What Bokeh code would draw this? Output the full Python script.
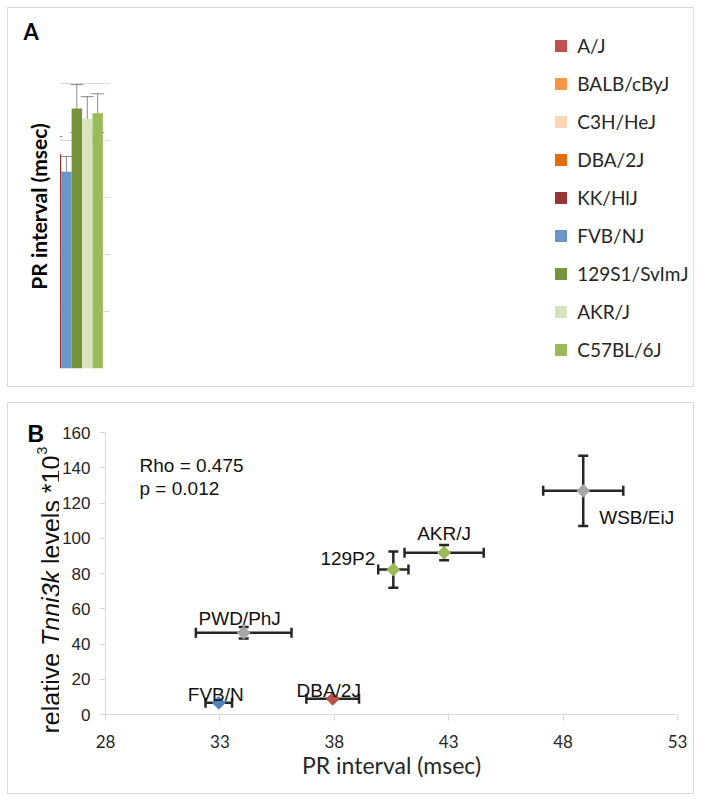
import numpy as np
from bokeh.plotting import figure
from bokeh.models import (ColumnDataSource, Range1d, FixedTicker, Whisker, TeeHead,
                          Legend, LegendItem, Label, CDSView, GroupFilter)
from bokeh.layouts import column, row
from bokeh.embed import file_html
from bokeh.resources import INLINE
from bokeh.core.properties import value

# ---------------- Panel A data ----------------
strains_a = ["A/J", "BALB/cByJ", "C3H/HeJ", "DBA/2J", "KK/HlJ", "FVB/NJ",
             "129S1/SvImJ", "AKR/J", "C57BL/6J"]
pr_mean_a = [38.5, 38.4, 37.6, 38.1, 37.6, 34.5, 45.6, 43.8, 44.8]
pr_err_a = [3.4, 2.3, 3.9, 1.5, 3.1, 2.7, 4.2, 3.9, 3.4]
colors_a = ["#C0504D", "#F79646", "#FCD5B4", "#E46C0A", "#963634", "#6B97C8",
            "#77933C", "#D7E4BD", "#9BBB59"]
y_ticks_a = [0, 10, 20, 30, 40, 50, 60]

# ---------------- Panel B data ----------------
strains_b = ["FVB/N", "DBA/2J", "PWD/PhJ", "129P2", "AKR/J", "WSB/EiJ"]
pr_b = [32.95, 37.93, 34.04, 40.58, 42.8, 48.88]
pr_err_b = [0.58, 1.15, 2.09, 0.66, 1.73, 1.75]
tnni_b = [6.6, 8.9, 46.4, 82.2, 91.8, 126.9]
tnni_err_b = [0.0, 0.0, 3.3, 10.3, 4.3, 19.9]
colors_b = ["#4F81BD", "#C0504D", "#A6A6A6", "#9BBB59", "#9BBB59", "#A6A6A6"]
label_dx = [-3, -4, -4, -18, 0, 16]
label_dy = [-8, -8, -14, -11, -19, 27]
label_align = ["center", "center", "center", "right", "center", "left"]
x_ticks_b = [28, 33, 38, 43, 48, 53]
y_ticks_b = [0, 20, 40, 60, 80, 100, 120, 140, 160]

GRID = "#D9D9D9"
TXT = "#262626"
BORDER = {"border": "1px solid #D9D9D9"}


def no_align(p):
    if "frame_align" in p.properties():
        p.frame_align = False
    return p


def strip(width, height):
    s = figure(width=width, height=height, x_range=Range1d(0, 1), y_range=Range1d(0, 1),
               output_backend="svg", toolbar_location=None,
               x_axis_location=None, y_axis_location=None, min_border=0)
    s.outline_line_color = None
    s.grid.visible = False
    return no_align(s)


# ================= Panel A =================
srcA = ColumnDataSource(dict(
    x=list(range(len(strains_a))), strain=strains_a, top=pr_mean_a,
    upper=[m + e for m, e in zip(pr_mean_a, pr_err_a)],
    lower=[m - e for m, e in zip(pr_mean_a, pr_err_a)],
    color=colors_a))

sA = strip(52, 378)
sA.add_layout(Label(x=15, y=355, x_units="screen", y_units="screen", text="A",
                    text_font="Lato", text_font_style="bold", text_font_size="22px",
                    text_color="#000000", text_baseline="alphabetic"))
sA.add_layout(Label(x=30, y=180, x_units="screen", y_units="screen", text="PR interval (msec)",
                    angle=np.pi / 2, text_align="center", text_baseline="middle",
                    text_font="Lato", text_font_style="bold", text_font_size="21px",
                    text_color="#000000"))

pA = figure(width=633, height=378, x_range=Range1d(-1.23, 9.23), y_range=Range1d(0, 60),
            output_backend="svg", toolbar_location=None,
            min_border_left=50, min_border_right=201, min_border_top=18, min_border_bottom=18)
no_align(pA)
pA.outline_line_color = None
pA.xaxis.visible = False
pA.xgrid.visible = False
pA.ygrid.grid_line_color = GRID
pA.ygrid.grid_line_width = 1
pA.yaxis.ticker = FixedTicker(ticks=y_ticks_a)
pA.yaxis.axis_line_color = GRID
pA.yaxis.major_tick_line_color = GRID
pA.yaxis.major_tick_out = 8
pA.yaxis.major_tick_in = 0
pA.yaxis.minor_tick_line_color = None
pA.yaxis.major_label_text_font = "Lato"
pA.yaxis.major_label_text_font_size = "18px"
pA.yaxis.major_label_text_color = TXT
pA.yaxis.major_label_standoff = 17

bars = pA.vbar(x="x", top="top", width=1.0, bottom=0, source=srcA,
               fill_color="color", line_color=None)

whA = Whisker(source=srcA, base="x", upper="upper", lower="lower",
              line_color="#404040", line_alpha=0.6, line_width=1,
              upper_head=TeeHead(size=13, line_color="#404040", line_alpha=0.6, line_width=1),
              lower_head=TeeHead(size=13, line_color="#404040", line_alpha=0.6, line_width=1))
pA.add_layout(whA)

legA = Legend(items=[LegendItem(label=s, renderers=[bars], index=i) for i, s in enumerate(strains_a)],
              location="left", orientation="vertical",
              glyph_width=15, glyph_height=15, label_standoff=9,
              label_text_font="Lato", label_text_font_size="19px", label_text_color=TXT,
              label_height=24, spacing=14, padding=0, margin=36,
              border_line_color=None, background_fill_alpha=0)
pA.add_layout(legA, "right")

rowA = row(sA, pA, spacing=0, styles=BORDER)

# ================= Panel B =================
srcB = ColumnDataSource(dict(
    x=pr_b, y=tnni_b, name=strains_b, color=colors_b,
    xl=[v - e for v, e in zip(pr_b, pr_err_b)], xu=[v + e for v, e in zip(pr_b, pr_err_b)],
    yl=[v - e for v, e in zip(tnni_b, tnni_err_b)], yu=[v + e for v, e in zip(tnni_b, tnni_err_b)],
    dx=label_dx, dy=label_dy, align=label_align))

sB = strip(51, 390)
sB.add_layout(Label(x=19, y=360, x_units="screen", y_units="screen", text="B",
                    text_font="Liberation Sans", text_font_style="bold", text_font_size="23px",
                    text_color="#000000", text_baseline="alphabetic"))
ylab_parts = [("relative", "normal", "25px", 42, 60),
              ("Tnni3k", "italic", "25px", 42, 147.5),
              ("levels *10", "normal", "25px", 42, 229.5),
              ("3", "normal", "14px", 33.5, 339)]
for txt, style, size, xs_, ys_ in ylab_parts:
    sB.add_layout(Label(x=xs_, y=ys_, x_units="screen", y_units="screen", text=txt,
                        angle=np.pi / 2, text_align="left", text_baseline="middle",
                        text_font="Liberation Sans", text_font_style=style,
                        text_font_size=size, text_color="#111111"))

pB = figure(width=634, height=390, x_range=Range1d(28, 53), y_range=Range1d(0, 160),
            output_backend="svg", toolbar_location=None,
            min_border_left=44, min_border_right=16, min_border_top=29, min_border_bottom=79)
no_align(pB)
pB.outline_line_color = None
pB.grid.visible = False
for ax in (pB.xaxis, pB.yaxis):
    ax.axis_line_color = GRID
    ax.major_tick_line_color = GRID
    ax.major_tick_out = 6
    ax.major_tick_in = 0
    ax.minor_tick_line_color = None
    ax.major_label_text_color = TXT
pB.xaxis.ticker = FixedTicker(ticks=x_ticks_b)
pB.yaxis.ticker = FixedTicker(ticks=y_ticks_b)
pB.xaxis.major_label_text_font = "Lato"
pB.xaxis.major_label_text_font_size = "17px"
pB.xaxis.major_label_standoff = 14
pB.xaxis.axis_label = "PR interval (msec)"
pB.xaxis.axis_label_text_font = "Lato"
pB.xaxis.axis_label_text_font_style = "normal"
pB.xaxis.axis_label_text_font_size = "23px"
pB.xaxis.axis_label_text_color = TXT
pB.xaxis.axis_label_standoff = 0
pB.yaxis.major_label_text_font = "Liberation Sans"
pB.yaxis.major_label_text_font_size = "17px"
pB.yaxis.major_label_standoff = 9

ERR = "#262626"
whx = Whisker(source=srcB, base="y", lower="xl", upper="xu", dimension="width",
              line_color=ERR, line_width=2.5, level="underlay",
              upper_head=TeeHead(size=10, line_color=ERR, line_width=2.5),
              lower_head=TeeHead(size=10, line_color=ERR, line_width=2.5))
why = Whisker(source=srcB, base="x", lower="yl", upper="yu", dimension="height",
              line_color=ERR, line_width=2.5, level="underlay",
              upper_head=TeeHead(size=10, line_color=ERR, line_width=2.5),
              lower_head=TeeHead(size=10, line_color=ERR, line_width=2.5))
pB.add_layout(whx)
pB.add_layout(why)

pB.scatter(x="x", y="y", source=srcB, marker="square", angle=np.pi / 4, size=9,
           fill_color="color", line_color="color")

for al in ("center", "right", "left"):
    pB.text(x="x", y="y", text="name", x_offset="dx", y_offset="dy", source=srcB,
            view=CDSView(filter=GroupFilter(column_name="align", group=al)),
            text_align=al, text_baseline="alphabetic",
            text_font=value("Liberation Sans"), text_font_size="19px", text_color="#111111")

pB.add_layout(Label(x=28, y=160, x_offset=34, y_offset=-33, text="Rho = 0.475",
                    text_font="Liberation Sans", text_color="#111111",
                    text_font_size="19px", text_baseline="alphabetic"))
pB.add_layout(Label(x=28, y=160, x_offset=34, y_offset=-56, text="p = 0.012",
                    text_font="Liberation Sans", text_color="#111111",
                    text_font_size="19px", text_baseline="alphabetic"))

rowB = row(sB, pB, spacing=0, styles=BORDER)

layout = column(rowA, rowB, spacing=15, styles={"margin-left": "7px", "margin-top": "7px"})
open("out.html", "w").write(file_html(layout, INLINE))
